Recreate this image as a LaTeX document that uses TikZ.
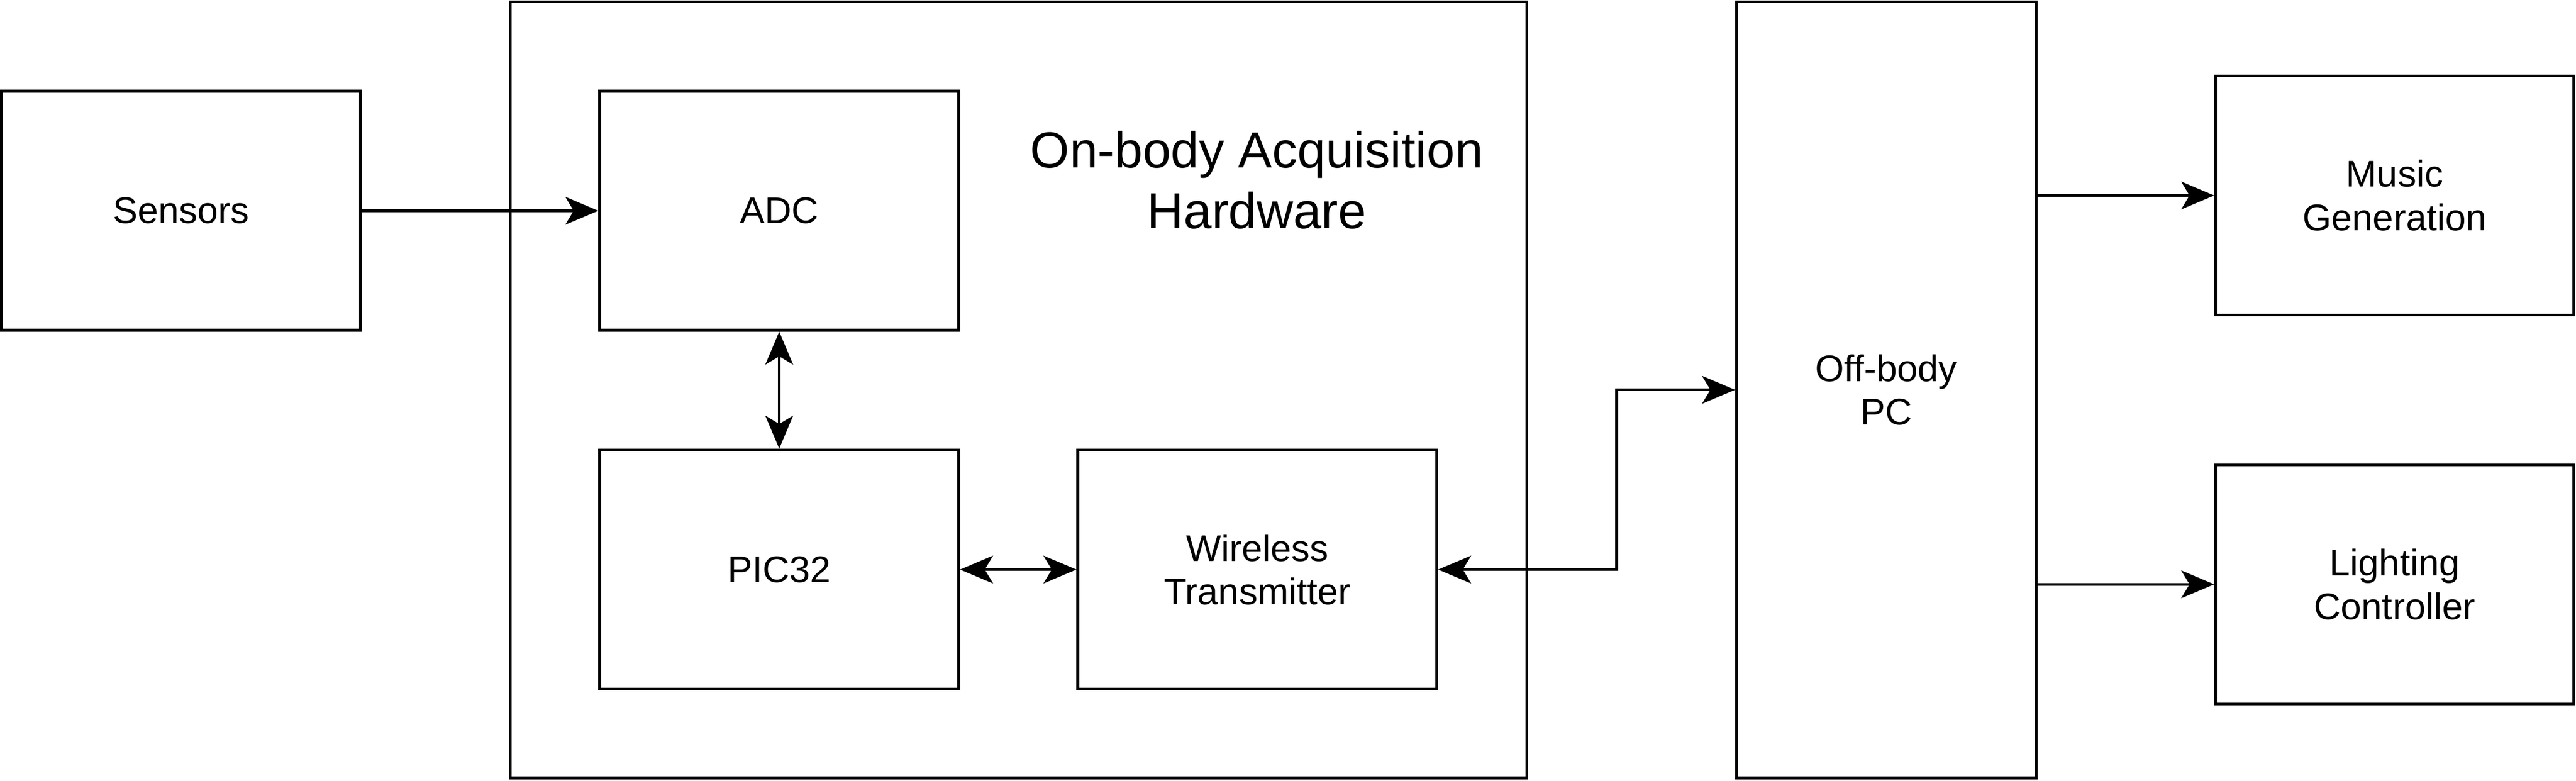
\documentclass[tikz,border=0pt]{standalone}
\usepackage{fontspec}
\setmainfont{Liberation Sans}
\usetikzlibrary{arrows.meta}

\begin{document}
\begin{tikzpicture}[x=0.5pt,y=-0.5pt,
		blk/.style={draw, line width=0.85pt, minimum width=109.25pt, minimum height=72.75pt,
			inner sep=0pt, align=center, font=\fontsize{11.3pt}{13.25pt}\selectfont},
		link/.style={line width=0.85pt},
		>={Stealth[length=10pt,width=8.4pt,inset=2.5pt]}]
		\useasboundingbox (0,0) rectangle (1568,475.3);
		\node[blk, minimum width=309.35pt, minimum height=236.25pt] (onbody) at (620,237.3) {};
		\node[align=center, font=\fontsize{15.4pt}{18.5pt}\selectfont] (title) at (765,109.5) {On-body Acquisition\\Hardware};
		\node[blk] (sens) at (110.2,128.3) {Sensors};
		\node[blk] (adc) at (474.3,128.3) {ADC};
		\node[blk] (pic) at (474.3,346.7) {PIC32};
		\node[blk] (wless) at (765.3,346.7) {Wireless\\Transmitter};
		\node[blk, minimum width=91.25pt, minimum height=236.25pt] (pc) at (1148.2,237.3) {Off-body\\PC};
		\node[blk, minimum width=109pt] (music) at (1457.6,119) {Music\\Generation};
		\node[blk, minimum width=109pt] (light) at (1457.6,355.7) {Lighting\\Controller};
		\coordinate (elb) at (984,237.3);
		\draw[link,->] (sens) -- (adc);
		\draw[link,<->] (adc) -- (pic);
		\draw[link,<->] (pic) -- (wless);
		\draw[link,<->] (wless.east) -| (elb) -- (pc.west);
		\draw[link,->] (music.west -| pc.east) -- (music.west);
		\draw[link,->] (light.west -| pc.east) -- (light.west);
	\end{tikzpicture}
\end{document}
